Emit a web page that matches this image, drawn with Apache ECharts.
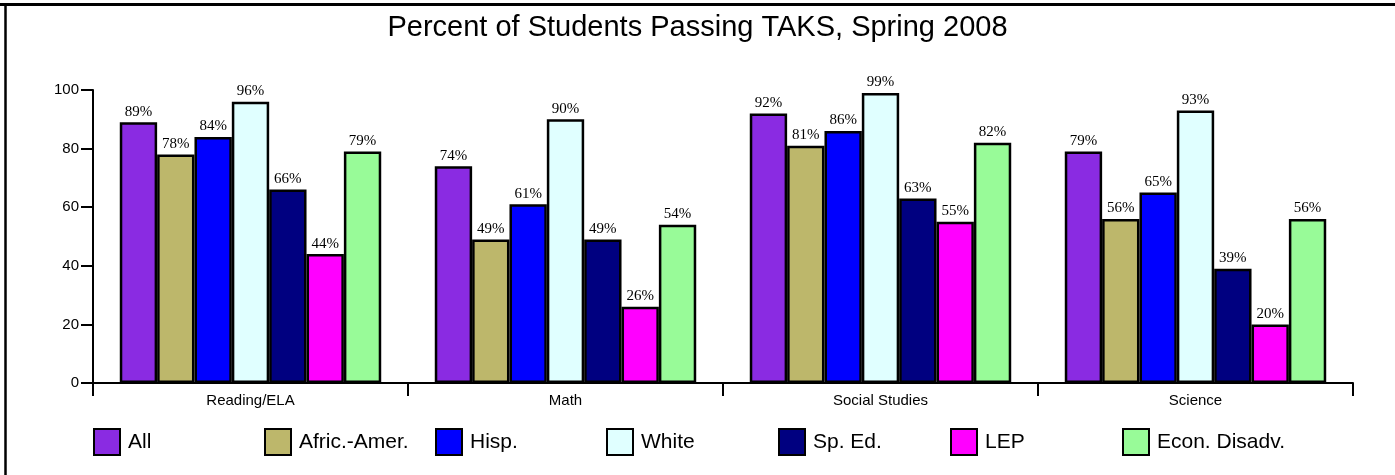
<!DOCTYPE html>
<html>
<head>
<meta charset="utf-8">
<title>Percent of Students Passing TAKS, Spring 2008</title>
<script src="https://cdn.jsdelivr.net/npm/echarts@6/dist/echarts.min.js"></script>
<style>
  html, body { margin:0; padding:0; background:#fff; }
  #main { width:1395px; height:475px; }
</style>
</head>
<body>
<div id="main"></div>
<script type="text/javascript">
	// 数据 -------------------
	var subjects = ['Reading/ELA', 'Math', 'Social Studies', 'Science'];
	var groups = ['All', 'Afric.-Amer.', 'Hisp.', 'White', 'Sp. Ed.', 'LEP', 'Econ. Disadv.'];
	var allStudents = [89, 74, 92, 79];
	var africAmer   = [78, 49, 81, 56];
	var hisp        = [84, 61, 86, 65];
	var white       = [96, 90, 99, 93];
	var spEd        = [66, 49, 63, 39];
	var lep         = [44, 26, 55, 20];
	var econDisadv  = [79, 54, 82, 56];
	var yTicks = [0, 20, 40, 60, 80, 100];

	var values = [allStudents, africAmer, hisp, white, spEd, lep, econDisadv];
	var colors = ['#8A2BE2', '#BDB76B', '#0000FF', '#E0FFFF', '#000080', '#FF00FF', '#98FB98'];
	var legendLeft = [93, 264, 435, 606, 778, 950, 1122];

	var myChart = echarts.init(document.getElementById('main'));

	var series = [];
	var legends = [];
	for (var i = 0; i < groups.length; i++) {
		series.push({
			name: groups[i],
			type: 'bar',
			barGap: '0%',
			barCategoryGap: '17%',
			itemStyle: {
				color: colors[i],
				borderColor: '#000',
				borderWidth: 2.5
			},
			label: {
				show: true,
				position: 'top',
				distance: 3,
				color: '#000',
				fontFamily: '"Liberation Serif", "Times New Roman", serif',
				fontSize: 15,
				formatter: '{c}%'
			},
			data: values[i]
		});
		legends.push({
			data: [groups[i]],
			left: legendLeft[i],
			top: 428,
			padding: 0,
			icon: 'rect',
			itemWidth: 26,
			itemHeight: 26,
			selectedMode: false,
			textStyle: {
				color: '#000',
				fontFamily: '"Liberation Sans", Arial, sans-serif',
				fontSize: 21,
				padding: [0, 0, 0, 3]
			}
		});
	}

	var option = {
		animation: false,
		title: {
			text: 'Percent of Students Passing TAKS, Spring 2008',
			left: 'center',
			top: 8,
			textStyle: {
				color: '#000',
				fontFamily: '"Liberation Sans", Arial, sans-serif',
				fontSize: 29,
				fontWeight: 'normal'
			}
		},
		legend: legends,
		grid: {
			left: 93,
			right: 42,
			top: 90,
			bottom: 92
		},
		xAxis: {
			type: 'category',
			data: subjects,
			axisLine: { lineStyle: { color: '#000', width: 2 } },
			axisTick: { show: true, alignWithLabel: false, interval: 0, length: 13, lineStyle: { color: '#000', width: 2 } },
			axisLabel: {
				color: '#000',
				fontFamily: '"Liberation Sans", Arial, sans-serif',
				fontSize: 15,
				margin: 10
			}
		},
		yAxis: {
			type: 'value',
			min: yTicks[0],
			max: yTicks[yTicks.length - 1],
			interval: yTicks[1] - yTicks[0],
			splitLine: { show: false },
			axisLine: { show: true, lineStyle: { color: '#000', width: 2 } },
			axisTick: { show: true, length: 12, lineStyle: { color: '#000', width: 2 } },
			axisLabel: {
				color: '#000',
				fontFamily: '"Liberation Sans", Arial, sans-serif',
				fontSize: 15,
				margin: 14
			}
		},
		graphic: [
			{ type: 'line', shape: { x1: 0, y1: 4.5, x2: 1395, y2: 4.5 }, style: { stroke: '#000', lineWidth: 3 } },
			{ type: 'line', shape: { x1: 5.5, y1: 3, x2: 5.5, y2: 475 }, style: { stroke: '#000', lineWidth: 2.5 } }
		],
		series: series
	};
	myChart.setOption(option);
</script>
</body>
</html>
